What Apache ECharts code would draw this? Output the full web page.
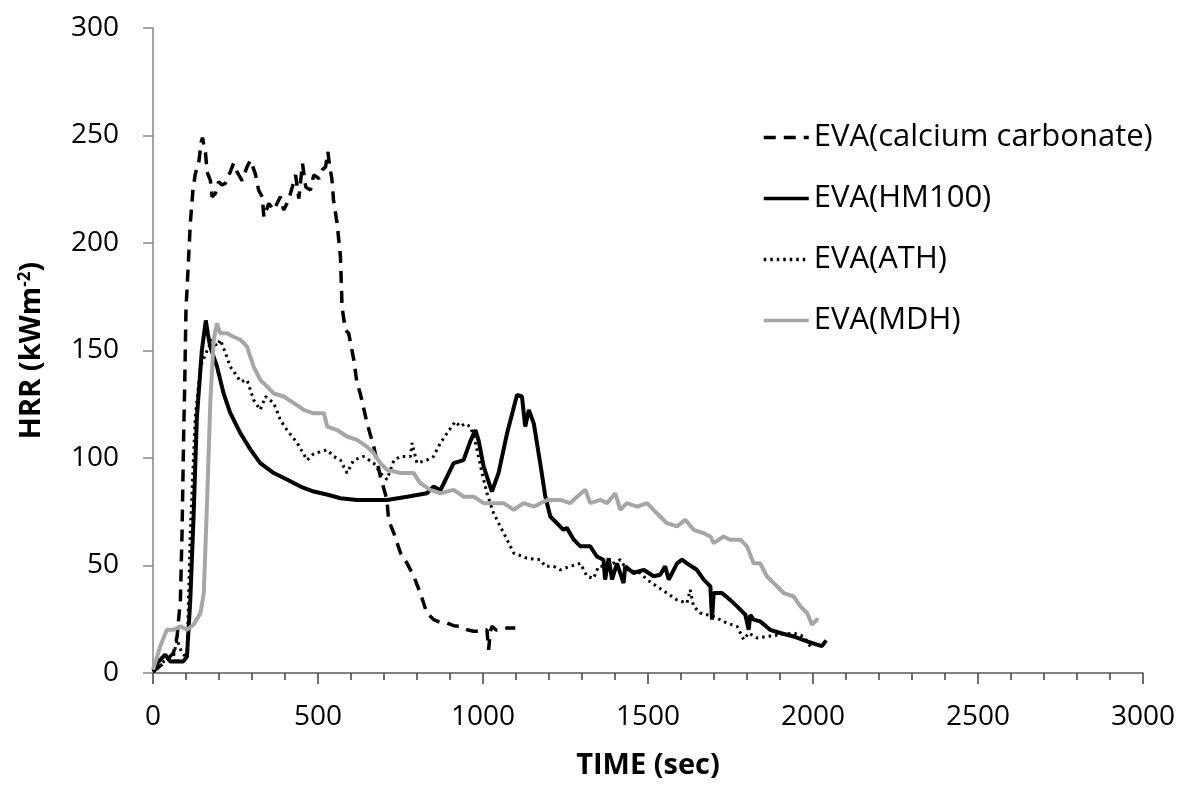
<!DOCTYPE html>
<html>
<head>
<meta charset="utf-8">
<script src="https://cdn.jsdelivr.net/npm/echarts@6/dist/echarts.min.js"></script>
<style>
html,body{margin:0;padding:0;background:#fff;}
#chart{width:1182px;height:785px;}
</style>
</head>
<body>
<div id="chart"></div>
<script>
// ---- data (time in s, HRR in kW/m2) ----
const seriesNames = ['EVA(calcium carbonate)', 'EVA(HM100)', 'EVA(ATH)', 'EVA(MDH)'];
const xTicks = [0, 500, 1000, 1500, 2000, 2500, 3000];
const yTicks = [0, 50, 100, 150, 200, 250, 300];

const caTime = [0, 32, 62, 73, 83, 88, 93, 96, 100, 103, 113, 121, 128, 139, 146, 150, 154, 159, 164, 174, 179, 189, 199, 209, 219, 234, 244, 255, 270, 285, 295, 310, 320, 331, 336, 351, 366, 386, 396, 411, 422, 432, 442, 453, 463, 477, 487, 503, 513, 523, 530, 535, 542, 547, 558, 568, 573, 583, 593, 608, 618, 628, 649, 669, 689, 709, 714, 730, 750, 770, 790, 810, 830, 851, 871, 891, 911, 931, 952, 972, 992, 1012, 1017, 1022, 1027, 1040, 1053, 1073, 1098];
const caHRR  = [0.5, 4.6, 9.3, 17, 34, 65, 111.5, 133, 170, 178, 209, 224.6, 232, 237.8, 247, 249, 245.5, 242, 233, 229, 221.5, 223, 228.5, 227, 227.7, 233, 237, 233, 229, 235.4, 238.5, 232.3, 224.6, 221.5, 212, 218.4, 215.3, 221.5, 215.3, 220, 226, 231.6, 220.7, 237, 226, 224.6, 231.6, 230, 234, 235.4, 242.4, 236, 230, 220, 209, 193.6, 170, 159.5, 158, 146, 135, 130, 116, 105.3, 91.4, 80.5, 71, 65, 55.8, 51, 45, 37.2, 27.9, 24.8, 23.5, 23.2, 22, 21.7, 20.1, 19.4, 19.4, 20.1, 10.8, 19, 21.7, 20, 20.1, 20.9, 20.9];

const hmTime = [0, 15, 37, 52, 70, 92, 103, 113, 123, 133, 148, 160, 166, 173, 194, 214, 234, 265, 295, 325, 366, 406, 447, 487, 527, 568, 618, 669, 709, 770, 830, 850, 871, 911, 941, 962, 977, 987, 1002, 1027, 1047, 1073, 1103, 1118, 1128, 1139, 1154, 1174, 1189, 1204, 1244, 1254, 1275, 1295, 1325, 1345, 1365, 1370, 1381, 1391, 1406, 1426, 1431, 1456, 1487, 1517, 1537, 1552, 1563, 1588, 1603, 1618, 1648, 1669, 1689, 1694, 1699, 1724, 1749, 1770, 1795, 1805, 1810, 1820, 1840, 1870, 1901, 1941, 1982, 2012, 2027, 2040];
const hmHRR  = [1.5, 5, 8.5, 5.4, 5.5, 5.4, 7.7, 34, 73, 119, 150, 164, 158, 152, 142.5, 130, 121, 111.5, 104, 97.6, 93, 90, 86.7, 84.4, 83, 81.3, 80.5, 80.5, 80.5, 82, 83.6, 86.7, 85, 97.6, 99, 108, 113, 108, 96, 84.4, 93, 111.5, 129.3, 128.6, 114.6, 122.4, 116, 97, 82, 72.8, 66.6, 67.5, 62, 58.9, 58.9, 54.2, 52.7, 43.4, 53.4, 43.5, 51, 41.8, 49.6, 46.5, 48, 45, 45.7, 49.6, 43.4, 51, 52.7, 51, 48, 43.4, 40.3, 24.8, 37.2, 37.2, 34, 31, 27.1, 20.1, 27, 24.8, 24, 20.1, 18.6, 17, 14.7, 13.2, 12.5, 15.2];

const athTime = [0, 22, 42, 62, 73, 88, 103, 113, 128, 144, 164, 179, 194, 204, 220, 234, 255, 265, 285, 305, 325, 341, 366, 386, 406, 437, 467, 487, 527, 548, 568, 588, 608, 638, 669, 689, 709, 730, 750, 780, 785, 800, 830, 850, 871, 891, 916, 931, 946, 962, 972, 982, 997, 1012, 1032, 1053, 1073, 1093, 1133, 1174, 1189, 1214, 1234, 1264, 1295, 1315, 1335, 1350, 1376, 1416, 1436, 1477, 1497, 1527, 1557, 1588, 1618, 1628, 1638, 1658, 1699, 1739, 1770, 1790, 1805, 1830, 1860, 1901, 1941, 1972, 1992];
const athHRR  = [1, 4.6, 6, 7.7, 15.5, 9.3, 7, 65, 119, 142.5, 150, 155, 152, 155, 148.7, 142.5, 138, 135.5, 136.3, 127, 122.4, 128.6, 125.5, 117.7, 113, 107, 99, 102, 103.8, 100.7, 99, 93, 99, 100.7, 97.6, 93, 90, 99, 100.7, 100.7, 107, 97.6, 99, 100.7, 107, 111.5, 117, 114.6, 116, 114.6, 110, 103.8, 93, 83.6, 74.3, 68, 62, 55.8, 53.4, 52.7, 49.6, 49.6, 48, 49.6, 51, 45, 44, 49.6, 49.6, 52.7, 48, 46.5, 43.4, 40.3, 37.2, 34, 32.5, 38.7, 31, 27.9, 26.3, 23.2, 21.7, 15.5, 18.6, 16.3, 17, 17.8, 18.6, 17, 12.4];

const mdhTime = [0, 22, 42, 62, 83, 103, 123, 144, 154, 164, 174, 184, 194, 204, 224, 244, 265, 285, 295, 305, 325, 346, 366, 396, 427, 457, 487, 518, 528, 558, 588, 618, 648, 669, 689, 709, 750, 790, 810, 840, 871, 911, 941, 972, 1002, 1032, 1063, 1093, 1123, 1154, 1194, 1234, 1264, 1285, 1310, 1325, 1356, 1376, 1401, 1416, 1436, 1467, 1497, 1527, 1557, 1588, 1613, 1638, 1669, 1689, 1699, 1729, 1749, 1780, 1800, 1820, 1840, 1860, 1881, 1911, 1941, 1962, 1982, 1997, 2012, 2017];
const mdhHRR  = [1.5, 12.4, 20.1, 20.1, 21.7, 20.1, 22.5, 27.9, 37.2, 80.5, 127, 155, 162.6, 158, 158, 156.4, 155, 151.8, 147, 142.5, 136.3, 133.2, 130, 128.6, 125.5, 122.4, 120.8, 120.8, 114.6, 113, 110, 108.4, 105.3, 102.2, 97.6, 94.5, 93, 93, 88.3, 85.2, 83.6, 85.2, 82, 82, 79, 79, 79, 75.9, 79, 77.4, 80.5, 80.5, 79, 82, 85.2, 79, 80.5, 79, 83.6, 75.9, 79, 77.4, 79, 74.3, 69.7, 68.2, 71.3, 66.6, 65, 63.5, 60.4, 63.5, 62, 62, 58.9, 51, 51, 45, 41.8, 37.2, 35.6, 31, 27.9, 22.5, 24.8, 24.8];

function pairs(t, v) { return t.map((x, i) => [x, v[i]]); }

const FONT = '"Open Sans", "Noto Sans", sans-serif';
const chart = echarts.init(document.getElementById('chart'), null, {renderer: 'canvas'});

const lineSeries = (name, t, v, color, width, type) => ({
  name: name,
  type: 'line',
  data: pairs(t, v),
  symbol: 'none',
  showSymbol: false,
  smooth: false,
  lineStyle: {color: color, width: width, type: type},
  itemStyle: {color: color},
  z: 2
});

chart.setOption({
  animation: false,
  backgroundColor: '#ffffff',
  grid: {left: 153, right: 39, top: 28, bottom: 112, containLabel: false},
  xAxis: {
    type: 'value',
    min: xTicks[0], max: xTicks[xTicks.length - 1], interval: 500,
    name: 'TIME (sec)',
    nameLocation: 'middle',
    nameGap: 78,
    nameTextStyle: {fontFamily: FONT, fontWeight: 'bold', fontSize: 29, color: '#000'},
    axisLine: {show: true, lineStyle: {color: '#595959', width: 1.5}},
    axisTick: {show: true, inside: false, length: 11, lineStyle: {color: '#404040', width: 1.5}},
    minorTick: {show: true, splitNumber: 5, length: 7, lineStyle: {color: '#404040', width: 1.5}},
    splitLine: {show: false},
    axisLabel: {fontFamily: FONT, fontSize: 28, color: '#000', margin: 30, formatter: v => String(v)}
  },
  yAxis: {
    type: 'value',
    min: yTicks[0], max: yTicks[yTicks.length - 1], interval: 50,
    name: 'HRR (kWm{sup|-2})',
    nameLocation: 'middle',
    nameGap: 107,
    nameRotate: 90,
    nameTextStyle: {
      fontFamily: FONT, fontWeight: 'bold', fontSize: 29, color: '#000',
      rich: {sup: {fontFamily: FONT, fontWeight: 'bold', fontSize: 17, color: '#000', verticalAlign: 'top'}}
    },
    axisLine: {show: true, lineStyle: {color: '#868686', width: 1.5}},
    axisTick: {show: true, inside: false, length: 10, lineStyle: {color: '#868686', width: 1.5}},
    splitLine: {show: false},
    axisLabel: {fontFamily: FONT, fontSize: 28, color: '#000', margin: 34, formatter: v => String(v)}
  },
  legend: {
    show: true,
    orient: 'vertical',
    left: 757,
    top: 117,
    itemWidth: 45,
    itemHeight: 14,
    itemGap: 30,
    itemStyle: {opacity: 0},
    lineStyle: {width: 3.5},
    textStyle: {fontFamily: FONT, fontSize: 31, color: '#000'},
    data: seriesNames
  },
  series: [
    lineSeries(seriesNames[0], caTime, caHRR, '#000000', 3.5, [12, 8]),
    lineSeries(seriesNames[1], hmTime, hmHRR, '#000000', 4, 'solid'),
    lineSeries(seriesNames[2], athTime, athHRR, '#000000', 3, [2.5, 4]),
    lineSeries(seriesNames[3], mdhTime, mdhHRR, '#a6a6a6', 4, 'solid')
  ]
});
</script>
</body>
</html>
